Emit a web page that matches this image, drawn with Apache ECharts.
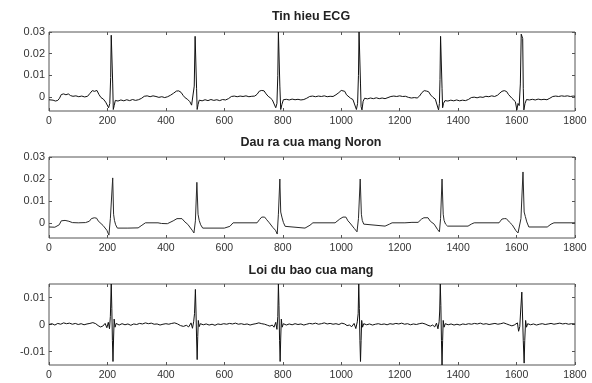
<!DOCTYPE html>
<html>
<head>
<meta charset="utf-8">
<script src="https://cdn.jsdelivr.net/npm/echarts@6/dist/echarts.min.js"></script>
<style>
html,body{margin:0;padding:0;background:#fff;}
#chart{width:592px;height:383px;}
</style>
</head>
<body>
<div id="chart"></div>
<script>
// ---- Data ----
var plotTitles = ['Tin hieu ECG', 'Dau ra cua mang Noron', 'Loi du bao cua mang'];
var xTicks = [0, 200, 400, 600, 800, 1000, 1200, 1400, 1600, 1800];
var yTicks1 = [0, 0.01, 0.02, 0.03];
var yTicks2 = [0, 0.01, 0.02, 0.03];
var yTicks3 = [-0.01, 0, 0.01];

var ecgSignal = [[0,-0.0013],[6,-0.0017],[14,-0.0015],[22,-0.0019],[30,-0.0016],[36,-0.0006],[42,0.0011],[50,0.0014],[58,0.0010],[66,0.0014],[74,0.0006],[82,0.0003],[92,0.0005],[102,0.0001],[112,0.0004],[122,0.0000],[132,0.0003],[140,0.0016],[148,0.0029],[156,0.0026],[164,0.0030],[171,0.0011],[178,-0.0003],[186,-0.0010],[194,-0.0024],[200,-0.0030],[204,-0.0050],[208,-0.0030],[211,0.0090],[213,0.0285],[216,0.0290],[218,0.0060],[220,-0.0058],[223,-0.0040],[227,-0.0016],[236,-0.0019],[246,-0.0014],[256,-0.0018],[266,-0.0013],[276,-0.0017],[286,-0.0012],[296,-0.0016],[306,-0.0013],[316,-0.0007],[326,0.0003],[336,0.0005],[346,0.0001],[356,0.0005],[366,0.0002],[376,-0.0002],[386,0.0001],[396,-0.0003],[406,0.0001],[416,0.0008],[426,0.0017],[436,0.0027],[444,0.0028],[452,0.0021],[459,0.0007],[466,-0.0004],[474,-0.0011],[482,-0.0022],[488,-0.0038],[493,-0.0045],[497,0.0050],[500,0.0280],[503,0.0282],[505,0.0040],[507,-0.0058],[510,-0.0036],[514,-0.0015],[524,-0.0018],[534,-0.0013],[544,-0.0017],[554,-0.0012],[564,-0.0016],[574,-0.0013],[584,-0.0017],[594,-0.0012],[604,-0.0014],[614,-0.0008],[624,0.0002],[634,0.0004],[644,0.0001],[654,0.0004],[664,0.0002],[674,0.0005],[684,0.0001],[694,0.0003],[704,0.0004],[712,0.0012],[720,0.0027],[728,0.0030],[736,0.0028],[743,0.0014],[750,0.0003],[757,-0.0004],[764,-0.0013],[770,-0.0020],[776,-0.0050],[780,-0.0030],[783,0.0100],[785,0.0300],[788,0.0300],[790,0.0050],[793,-0.0058],[797,-0.0035],[802,-0.0013],[812,-0.0011],[822,-0.0014],[832,-0.0010],[842,-0.0013],[852,-0.0011],[862,-0.0014],[872,-0.0012],[882,-0.0006],[892,0.0002],[902,0.0004],[912,0.0001],[922,0.0004],[932,0.0002],[942,0.0005],[952,0.0001],[962,0.0003],[972,0.0002],[982,0.0010],[992,0.0020],[1000,0.0030],[1006,0.0033],[1012,0.0026],[1018,0.0010],[1024,0.0002],[1032,-0.0006],[1040,-0.0012],[1046,-0.0020],[1052,-0.0058],[1056,-0.0030],[1059,0.0100],[1061,0.0300],[1064,0.0300],[1066,0.0060],[1068,-0.0045],[1071,-0.0060],[1075,-0.0020],[1080,-0.0006],[1090,-0.0009],[1100,-0.0005],[1110,-0.0008],[1120,-0.0004],[1130,-0.0008],[1140,-0.0005],[1150,-0.0008],[1160,-0.0003],[1170,0.0002],[1180,0.0004],[1190,0.0002],[1200,0.0005],[1210,0.0002],[1220,0.0003],[1230,-0.0002],[1240,-0.0005],[1250,-0.0003],[1260,-0.0005],[1268,0.0004],[1276,0.0020],[1284,0.0029],[1292,0.0027],[1299,0.0024],[1306,0.0009],[1314,-0.0002],[1322,-0.0010],[1328,-0.0018],[1333,-0.0060],[1336,-0.0030],[1338,0.0080],[1340,0.0280],[1343,0.0280],[1345,0.0040],[1347,-0.0050],[1350,-0.0030],[1355,-0.0017],[1365,-0.0019],[1375,-0.0015],[1385,-0.0018],[1395,-0.0014],[1405,-0.0018],[1415,-0.0015],[1425,-0.0017],[1435,-0.0012],[1445,-0.0003],[1455,-0.0001],[1465,-0.0004],[1475,0.0000],[1485,-0.0002],[1495,0.0003],[1505,0.0001],[1515,0.0005],[1525,0.0002],[1535,0.0008],[1543,0.0018],[1550,0.0026],[1558,0.0029],[1566,0.0025],[1572,0.0012],[1578,0.0003],[1584,-0.0006],[1590,-0.0014],[1596,-0.0022],[1601,-0.0060],[1605,-0.0030],[1609,-0.0040],[1613,0.0060],[1616,0.0290],[1619,0.0290],[1621,0.0270],[1623,0.0040],[1625,-0.0060],[1629,-0.0030],[1634,-0.0012],[1644,-0.0014],[1654,-0.0011],[1664,-0.0014],[1674,-0.0010],[1684,-0.0013],[1694,-0.0011],[1704,-0.0013],[1714,-0.0006],[1724,0.0002],[1734,0.0004],[1744,0.0002],[1754,0.0005],[1764,0.0003],[1774,0.0005],[1784,0.0002],[1794,0.0004],[1800,0.0003]];

var nnOutput = [[0,-0.0018],[20,-0.0019],[35,-0.0008],[42,0.0010],[55,0.0012],[68,0.0008],[80,0.0002],[100,0.0001],[125,0.0002],[138,0.0008],[145,0.0020],[155,0.0024],[163,0.0022],[168,0.0010],[185,-0.0011],[198,-0.0033],[205,-0.0055],[210,0.0020],[218,0.0205],[221,0.0040],[224,0.0012],[228,-0.0008],[234,-0.0023],[270,-0.0023],[305,-0.0022],[318,-0.0010],[330,0.0001],[373,0.0001],[385,-0.0002],[405,-0.0003],[425,0.0010],[438,0.0020],[455,0.0020],[465,0.0005],[475,-0.0006],[490,-0.0033],[496,-0.0045],[501,0.0010],[506,0.0185],[510,0.0040],[514,0.0012],[519,-0.0008],[526,-0.0023],[600,-0.0023],[619,-0.0015],[630,0.0001],[712,0.0001],[720,0.0015],[728,0.0027],[738,0.0027],[745,0.0015],[754,0.0001],[766,-0.0020],[775,-0.0033],[781,-0.0050],[785,0.0040],[790,0.0200],[793,0.0050],[797,0.0027],[802,0.0003],[808,-0.0015],[814,-0.0023],[876,-0.0023],[893,-0.0010],[903,0.0001],[979,0.0001],[995,0.0018],[1006,0.0027],[1016,0.0027],[1023,0.0010],[1030,0.0000],[1045,-0.0025],[1054,-0.0040],[1059,0.0020],[1065,0.0200],[1069,0.0040],[1072,0.0012],[1077,-0.0005],[1083,-0.0014],[1150,-0.0014],[1165,-0.0005],[1174,0.0001],[1218,0.0001],[1242,0.0003],[1263,0.0003],[1275,0.0018],[1283,0.0024],[1297,0.0024],[1305,0.0008],[1318,-0.0005],[1330,-0.0030],[1336,-0.0040],[1340,0.0020],[1345,0.0200],[1349,0.0040],[1352,0.0012],[1357,-0.0005],[1364,-0.0014],[1434,-0.0014],[1445,-0.0005],[1455,0.0001],[1540,0.0001],[1550,0.0018],[1558,0.0020],[1565,0.0020],[1575,0.0005],[1585,-0.0008],[1598,-0.0035],[1605,-0.0045],[1615,0.0020],[1622,0.0232],[1626,0.0050],[1630,0.0030],[1635,0.0005],[1642,-0.0018],[1705,-0.0018],[1718,-0.0005],[1728,0.0001],[1800,0.0001]];

var predError = [[0,0.0000],[10,0.0003],[20,-0.0002],[30,0.0004],[40,0.0001],[50,0.0006],[60,0.0003],[70,0.0005],[80,0.0001],[90,0.0004],[100,0.0000],[110,0.0003],[120,-0.0001],[130,0.0002],[140,0.0004],[150,0.0007],[160,0.0003],[168,-0.0004],[176,-0.0009],[184,-0.0006],[192,0.0004],[198,-0.0012],[203,0.0008],[207,-0.0016],[210,0.0030],[213,0.0150],[215,0.0060],[217,-0.0060],[219,-0.0137],[221,-0.0050],[223,0.0020],[226,-0.0010],[230,0.0004],[240,-0.0002],[250,0.0003],[260,-0.0001],[270,0.0002],[280,-0.0003],[290,0.0002],[300,0.0000],[310,0.0004],[320,0.0002],[330,0.0006],[340,0.0003],[350,0.0005],[360,0.0001],[370,0.0002],[380,-0.0002],[390,0.0001],[400,0.0003],[410,0.0001],[420,0.0004],[430,0.0006],[440,0.0002],[450,-0.0004],[460,-0.0007],[470,-0.0003],[478,-0.0009],[486,0.0006],[491,-0.0014],[495,0.0010],[498,0.0040],[501,0.0130],[503,0.0050],[505,-0.0050],[507,-0.0130],[509,-0.0045],[511,0.0015],[514,-0.0008],[518,0.0003],[528,-0.0001],[538,0.0002],[548,-0.0002],[558,0.0001],[568,-0.0003],[578,0.0002],[588,0.0000],[598,0.0003],[608,0.0001],[618,0.0004],[628,0.0002],[638,0.0005],[648,0.0001],[658,0.0003],[668,0.0000],[678,0.0002],[688,-0.0002],[698,0.0001],[708,0.0003],[718,0.0006],[728,0.0003],[738,0.0001],[748,-0.0003],[756,-0.0006],[764,-0.0002],[770,-0.0010],[776,0.0008],[780,-0.0018],[783,0.0030],[785,0.0150],[787,0.0070],[789,-0.0060],[791,-0.0137],[793,-0.0050],[795,0.0020],[798,-0.0010],[802,0.0003],[812,-0.0002],[822,0.0002],[832,-0.0001],[842,0.0003],[852,0.0000],[862,0.0002],[872,-0.0002],[882,0.0001],[892,0.0004],[902,0.0002],[912,0.0005],[922,0.0001],[932,0.0003],[942,0.0006],[952,0.0002],[962,0.0004],[972,0.0001],[982,0.0003],[992,0.0000],[1002,0.0005],[1012,0.0002],[1020,-0.0004],[1028,-0.0002],[1036,-0.0008],[1044,0.0004],[1050,-0.0015],[1055,0.0010],[1058,0.0040],[1060,0.0150],[1062,0.0060],[1064,-0.0060],[1066,-0.0137],[1068,-0.0060],[1070,0.0015],[1073,-0.0010],[1077,0.0003],[1087,-0.0001],[1097,0.0002],[1107,-0.0002],[1117,0.0001],[1127,0.0003],[1137,0.0000],[1147,0.0002],[1157,-0.0001],[1167,0.0003],[1177,0.0001],[1187,0.0004],[1197,0.0002],[1207,0.0005],[1217,0.0001],[1227,0.0003],[1237,-0.0001],[1247,0.0002],[1257,0.0000],[1267,0.0003],[1277,0.0005],[1287,0.0002],[1297,-0.0003],[1305,-0.0006],[1313,-0.0002],[1320,-0.0009],[1326,0.0005],[1331,-0.0016],[1335,0.0010],[1337,0.0050],[1339,0.0150],[1341,0.0070],[1343,-0.0060],[1345,-0.0150],[1347,-0.0060],[1349,0.0015],[1352,-0.0010],[1356,0.0003],[1366,-0.0001],[1376,0.0002],[1386,-0.0002],[1396,0.0001],[1406,-0.0002],[1416,0.0002],[1426,0.0000],[1436,0.0003],[1446,0.0001],[1456,0.0004],[1466,0.0002],[1476,0.0005],[1486,0.0001],[1496,0.0003],[1506,0.0000],[1516,0.0002],[1526,0.0004],[1536,0.0001],[1546,0.0003],[1556,0.0006],[1566,0.0002],[1576,-0.0002],[1584,-0.0005],[1592,-0.0002],[1598,-0.0009],[1603,0.0006],[1607,-0.0025],[1611,-0.0008],[1614,0.0050],[1618,0.0120],[1620,0.0050],[1623,-0.0060],[1626,-0.0143],[1628,-0.0060],[1631,0.0015],[1634,-0.0010],[1638,0.0003],[1648,-0.0001],[1658,0.0002],[1668,-0.0002],[1678,0.0001],[1688,0.0003],[1698,0.0000],[1708,0.0002],[1718,0.0004],[1728,0.0001],[1738,0.0003],[1748,0.0005],[1758,0.0002],[1768,0.0004],[1778,0.0001],[1788,0.0003],[1800,0.0002]];

var yRanges = [[-0.0065, 0.03], [-0.0068, 0.03], [-0.015, 0.015]];
var signals = [ecgSignal, nnOutput, predError];
var yTickSets = [yTicks1, yTicks2, yTicks3];

// ---- Layout ----
var FONT = '"Liberation Sans", Arial, sans-serif';
var grids = [
  {left: 49, top: 32, width: 526, height: 79},
  {left: 49, top: 157, width: 526, height: 81},
  {left: 49, top: 284, width: 526, height: 81}
];
var titleY = [17, 143, 271];
var frameColor = '#555';

function fmt(v) {
  if (v === 0) return '0';
  return String(Math.round(v * 1000) / 1000);
}

var option = {
  animation: false,
  backgroundColor: '#ffffff',
  grid: grids.map(function (g) {
    return {left: g.left, top: g.top, width: g.width, height: g.height,
      show: true, borderColor: frameColor, borderWidth: 1, backgroundColor: 'transparent'};
  }),
  xAxis: [],
  yAxis: [],
  series: [],
  graphic: []
};

for (var i = 0; i < 3; i++) {
  option.xAxis.push({
    type: 'value', gridIndex: i, min: 0, max: 1800, interval: 200, position: 'bottom',
    axisLine: {show: false, onZero: false},
    axisTick: {show: true, inside: true, length: 3, lineStyle: {color: frameColor, width: 1}},
    axisLabel: {show: true, color: '#333', fontSize: 10.5, fontFamily: FONT, margin: 5,
      customValues: xTicks, formatter: function (v) { return String(v); }},
    splitLine: {show: false}
  });
  option.xAxis.push({
    type: 'value', gridIndex: i, min: 0, max: 1800, interval: 200, position: 'top',
    axisLine: {show: false, onZero: false},
    axisTick: {show: true, inside: true, length: 3, lineStyle: {color: frameColor, width: 1}},
    axisLabel: {show: false},
    splitLine: {show: false}
  });
  option.yAxis.push({
    type: 'value', gridIndex: i, min: yRanges[i][0], max: yRanges[i][1], position: 'left',
    axisLine: {show: false, onZero: false},
    axisTick: {show: true, inside: true, length: 3, customValues: yTickSets[i],
      lineStyle: {color: frameColor, width: 1}},
    axisLabel: {show: true, color: '#333', fontSize: 11, fontFamily: FONT, margin: 4,
      customValues: yTickSets[i], formatter: fmt},
    splitLine: {show: false}
  });
  option.yAxis.push({
    type: 'value', gridIndex: i, min: yRanges[i][0], max: yRanges[i][1], position: 'right',
    axisLine: {show: false, onZero: false},
    axisTick: {show: true, inside: true, length: 3, customValues: yTickSets[i],
      lineStyle: {color: frameColor, width: 1}},
    axisLabel: {show: false},
    splitLine: {show: false}
  });
  option.series.push({
    type: 'line', xAxisIndex: 2 * i, yAxisIndex: 2 * i, data: signals[i],
    showSymbol: false, symbol: 'none', clip: true,
    lineStyle: {color: i === 1 ? '#2a2a2a' : '#111', width: 1},
    emphasis: {disabled: true}
  });
  option.graphic.push({
    type: 'text', x: 311, y: titleY[i],
    style: {text: plotTitles[i], fill: '#222', font: 'bold 12.5px ' + FONT,
      textAlign: 'center', textVerticalAlign: 'middle'}
  });
}

var chart = echarts.init(document.getElementById('chart'), null, {renderer: 'canvas'});
chart.setOption(option);
</script>
</body>
</html>
